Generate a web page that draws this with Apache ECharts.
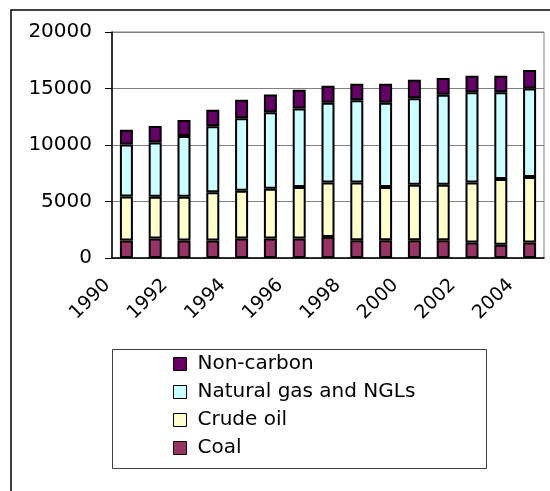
<!DOCTYPE html>
<html>
<head>
<meta charset="utf-8">
<script src="https://cdn.jsdelivr.net/npm/echarts@6/dist/echarts.min.js"></script>
<style>
  html, body { margin: 0; padding: 0; background: #fff; }
  #chart { width: 550px; height: 491px; }
</style>
</head>
<body>
<div id="chart"></div>
<script>
// Years on the category axis
const years = ['1990','1991','1992','1993','1994','1995','1996','1997','1998','1999','2000','2001','2002','2003','2004'];

// Energy production by source (stacked segments)
const coal      = [1550, 1730, 1550, 1550, 1730, 1730, 1730, 1860, 1560, 1560, 1560, 1560, 1380, 1180, 1380];
const crudeOil  = [3900, 3700, 3880, 4260, 4230, 4400, 4550, 4830, 5130, 4720, 4930, 4930, 5310, 5810, 5790];
const naturalGas= [4600, 4800, 5370, 5840, 6400, 6760, 6960, 7050, 7260, 7460, 7640, 7960, 7970, 7670, 7840];
const nonCarbon = [1300, 1450, 1410, 1480, 1650, 1590, 1660, 1510, 1480, 1690, 1650, 1480, 1470, 1470, 1630];

// Value axis ticks
const yTicks = [0, 5000, 10000, 15000, 20000];

const legendOrder = ['Non-carbon', 'Natural gas and NGLs', 'Crude oil', 'Coal'];

const font = 'DejaVu Sans';
const chart = echarts.init(document.getElementById('chart'), null, { renderer: 'canvas' });

function barSeries(name, data, color) {
  return {
    name: name,
    type: 'bar',
    stack: 'total',
    data: data,
    barWidth: 13,
    itemStyle: { color: color, borderColor: '#000', borderWidth: 2 },
    emphasis: { disabled: true }
  };
}

chart.setOption({
  animation: false,
  backgroundColor: '#fff',
  textStyle: { fontFamily: font },
  grid: {
    left: 112, right: 6, top: 32, bottom: 233,
    show: true, borderColor: '#808080', borderWidth: 1, backgroundColor: 'transparent'
  },
  xAxis: {
    type: 'category',
    data: years,
    boundaryGap: true,
    axisLine: { lineStyle: { color: '#000', width: 1.5 } },
    axisTick: { interval: 0, length: 8, lineStyle: { color: '#000', width: 1 } },
    axisLabel: {
      interval: 1,
      rotate: 45,
      margin: 5,
      padding: [0, 27, 0, 0],
      color: '#000',
      fontFamily: font,
      fontSize: 19
    },
    splitLine: { show: false }
  },
  yAxis: {
    type: 'value',
    min: yTicks[0],
    max: yTicks[yTicks.length - 1],
    interval: yTicks[1] - yTicks[0],
    axisLine: { show: true, lineStyle: { color: '#000', width: 1.5 } },
    axisTick: { show: true, length: 7, lineStyle: { color: '#000', width: 1 } },
    axisLabel: {
      margin: 20, color: '#000', fontFamily: font, fontSize: 20,
      formatter: function (v) { return String(v); }
    },
    splitLine: { show: true, lineStyle: { color: '#808080', width: 1 } }
  },
  legend: {
    orient: 'vertical',
    left: 173,
    top: 354,
    padding: 0,
    itemGap: 8,
    itemWidth: 13,
    itemHeight: 13,
    icon: 'rect',
    selectedMode: false,
    data: legendOrder,
    itemStyle: { borderColor: '#000', borderWidth: 1 },
    textStyle: { color: '#000', fontFamily: font, fontSize: 20, lineHeight: 20, padding: [0, 0, 0, 6] }
  },
  graphic: [
    {
      type: 'rect',
      silent: true,
      shape: { x: 11, y: 10, width: 600, height: 600 },
      style: { fill: 'none', stroke: '#000', lineWidth: 1.5 }
    },
    {
      type: 'rect',
      silent: true,
      shape: { x: 112.5, y: 349.5, width: 374, height: 119 },
      style: { fill: 'none', stroke: '#404040', lineWidth: 1 }
    }
  ],
  series: [
    barSeries('Coal', coal, '#993366'),
    barSeries('Crude oil', crudeOil, '#FFFFCC'),
    barSeries('Natural gas and NGLs', naturalGas, '#CCFFFF'),
    barSeries('Non-carbon', nonCarbon, '#660066')
  ]
});
</script>
</body>
</html>
